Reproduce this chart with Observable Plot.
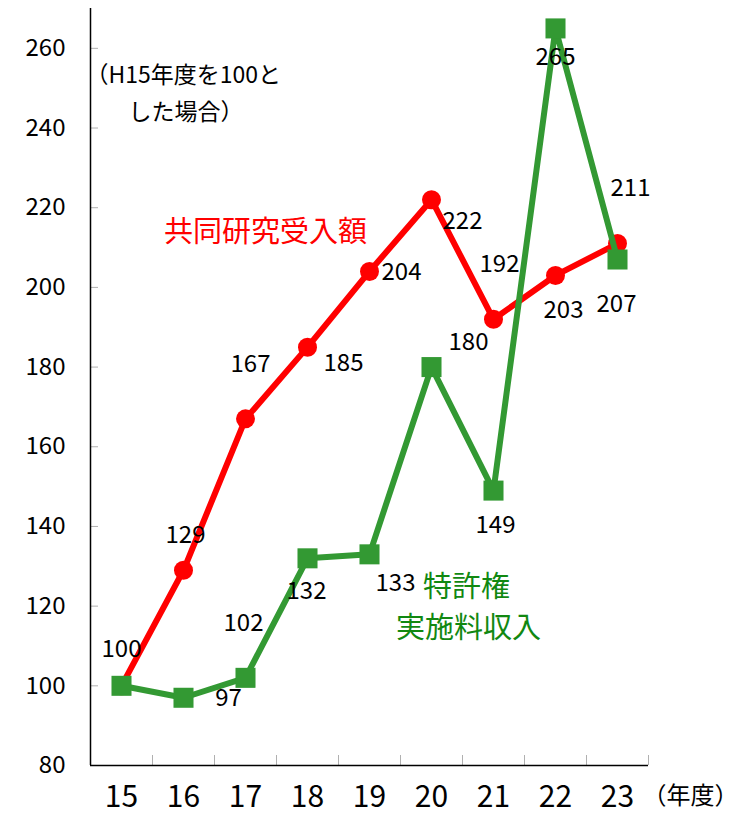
<!DOCTYPE html>
<html>
<head>
<meta charset="utf-8">
<script src="https://cdn.jsdelivr.net/npm/d3@7"></script>
<script src="https://cdn.jsdelivr.net/npm/@observablehq/plot@0.6"></script>
<style>
  html, body { margin: 0; padding: 0; background: white; }
  #chart { width: 737px; height: 817px; }
</style>
</head>
<body>
<div id="chart"></div>
<script>
// ---- data ----
const years = [15, 16, 17, 18, 19, 20, 21, 22, 23];
const kyodo = [100, 129, 167, 185, 204, 222, 192, 203, 211];   // 共同研究受入額
const tokkyo = [100, 97, 102, 132, 133, 180, 149, 265, 207];   // 特許権実施料収入
const yTicks = [80, 100, 120, 140, 160, 180, 200, 220, 240, 260];
const seriesNames = ["共同研究受入額", "特許権", "実施料収入"];
const noteLines = ["（H15年度を100と", "した場合）"];
const xUnit = "（年度）";

// ---- label placement (styles) ----
const kyodoLabelOffset = [[0,-37],[2,-35],[5,-55],[36,16],[32,1],[31,22],[6,-55],[8,35],[13,-55]];
const tokkyoLabelOffset = [null,[45,1],[-2,-55],[-1,33],[26,29],[37,-25],[2,35],[0,29],[-1,45]];

const RED = "#ff0000";
const GREEN = "#339933";
const GREEN_TEXT = "#118811";
const FONT = "'Noto Sans CJK JP', 'Noto Sans', sans-serif";

const redData = years.map((year, i) => ({year, value: kyodo[i]}));
const greenData = years.map((year, i) => ({year, value: tokkyo[i]}));

const labelMarks = [];
redData.forEach((d, i) => {
  const o = kyodoLabelOffset[i];
  if (!o) return;
  labelMarks.push(Plot.text([d], {x: "year", y: "value", text: d => String(d.value), dx: o[0], dy: o[1], fontSize: 24, fill: "black"}));
});
greenData.forEach((d, i) => {
  const o = tokkyoLabelOffset[i];
  if (!o) return;
  labelMarks.push(Plot.text([d], {x: "year", y: "value", text: d => String(d.value), dx: o[0], dy: o[1], fontSize: 24, fill: "black"}));
});

const chart = Plot.plot({
  width: 737,
  height: 817,
  marginLeft: 90,
  marginRight: 89,
  marginTop: 8,
  marginBottom: 52,
  style: {fontFamily: FONT, background: "white", color: "black"},
  x: {type: "linear", domain: [years[0] - 0.5, years[years.length - 1] + 0.5]},
  y: {domain: [80, 270]},
  marks: [
    Plot.tickY(yTicks, {y: d => d, stroke: "#b0b0b0", strokeWidth: 1, insetRight: 550}),
    Plot.tickX(years.map(d => d + 0.5), {x: d => d, stroke: "#b0b0b0", strokeWidth: 1, insetTop: 747}),
    Plot.ruleX([years[0] - 0.5], {stroke: "black", strokeWidth: 1.5}),
    Plot.ruleY([80], {stroke: "black", strokeWidth: 1.5}),
    Plot.axisY({ticks: yTicks, tickSize: 0, tickPadding: 25, fontSize: 24, label: null, fill: "black"}),
    Plot.axisX({ticks: years, tickSize: 0, tickPadding: 20, fontSize: 30, label: null, fill: "black", tickFormat: d => String(d)}),
    // red series
    Plot.line(redData, {x: "year", y: "value", stroke: RED, strokeWidth: 6}),
    Plot.dot(redData, {x: "year", y: "value", r: 9.5, fill: RED, stroke: null}),
    // green series
    Plot.line(greenData, {x: "year", y: "value", stroke: GREEN, strokeWidth: 6}),
    Plot.dot(greenData, {x: "year", y: "value", symbol: "square", r: 11.3, fill: GREEN, stroke: null}),
    ...labelMarks,
    // annotations
    Plot.text([noteLines[0]], {frameAnchor: "top-left", text: d => d, dx: -5, dy: 67, textAnchor: "start", lineAnchor: "middle", fontSize: 23, fill: "black"}),
    Plot.text([noteLines[1]], {frameAnchor: "top-left", text: d => d, dx: 38, dy: 104, textAnchor: "start", lineAnchor: "middle", fontSize: 23, fill: "black"}),
    Plot.text([seriesNames[0]], {frameAnchor: "top-left", text: d => d, dx: 175, dy: 224, textAnchor: "middle", lineAnchor: "middle", fontSize: 29, fill: RED}),
    Plot.text([seriesNames[1]], {frameAnchor: "top-left", text: d => d, dx: 376, dy: 579, textAnchor: "middle", lineAnchor: "middle", fontSize: 29, fill: GREEN_TEXT}),
    Plot.text([seriesNames[2]], {frameAnchor: "top-left", text: d => d, dx: 378, dy: 620, textAnchor: "middle", lineAnchor: "middle", fontSize: 29, fill: GREEN_TEXT}),
    Plot.text([xUnit], {frameAnchor: "bottom-right", text: d => d, dx: -6, dy: 31, textAnchor: "start", lineAnchor: "middle", fontSize: 24, fill: "black"})
  ]
});
document.getElementById("chart").appendChild(chart);
</script>
</body>
</html>
